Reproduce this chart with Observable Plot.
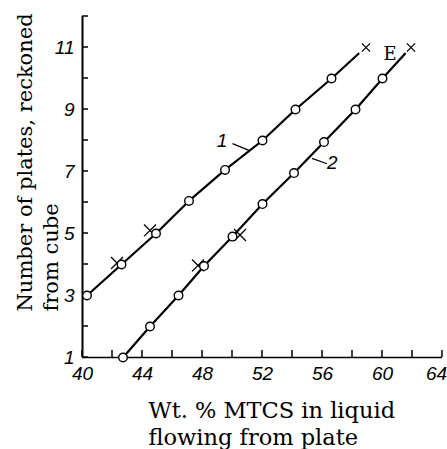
<!DOCTYPE html>
<html><head><meta charset="utf-8">
<script src="https://cdn.jsdelivr.net/npm/d3@7"></script>
<script src="https://cdn.jsdelivr.net/npm/@observablehq/plot@0.6"></script>
<style>body{margin:0;background:#fff} svg{display:block}</style>
</head><body><div id="chart"></div>
<script>
// Axes
const xTicks = [40, 42, 44, 46, 48, 50, 52, 54, 56, 58, 60, 62, 64];
const xLabels = [40, 44, 48, 52, 56, 60, 64];
const yTicks = [1, 2, 3, 4, 5, 6, 7, 8, 9, 10, 11, 12];
const yLabels = [1, 3, 5, 7, 9, 11];
const xTitle = "Wt. % MTCS in liquid\nflowing from plate";
const yTitle = "Number of plates, reckoned\nfrom cube";

// Curve 1
const c1X = [40.3, 42.6, 44.9, 47.1, 49.5, 52.0, 54.2, 56.6];
const c1Y = [3.0, 4.0, 5.0, 6.05, 7.05, 8.0, 9.0, 10.0];
const c1EndX = 58.4, c1EndY = 10.8;
const c1CrossX = [42.3, 44.5];
const c1CrossY = [4.05, 5.1];
// Curve 2
const c2X = [42.7, 44.5, 46.4, 48.1, 50.0, 52.0, 54.1, 56.1, 58.2, 60.0];
const c2Y = [1.0, 2.0, 3.0, 3.95, 4.9, 5.95, 6.95, 7.95, 9.0, 10.0];
const c2EndX = 61.5, c2EndY = 10.8;
const c2CrossX = [47.7, 50.5];
const c2CrossY = [3.97, 4.95];
// End-point crosses (E)
const endCrossX = [58.9, 61.9];
const endCrossY = [11.0, 11.0];

// Curve labels
const curveLabels = ["1", "2"];
const curveLabelX = [49.3, 56.65];
const curveLabelY = [7.98, 7.27];
const leaderX1 = [50.0, 55.3], leaderY1 = [7.9, 7.42];
const leaderX2 = [51.1, 56.3], leaderY2 = [7.68, 7.25];
const eLabel = "E", eX = 60.5, eY = 10.77;

const pts = (xs, ys) => xs.map((x, i) => ({x, y: ys[i]}));
const line1 = pts(c1X, c1Y).concat([{x: c1EndX, y: c1EndY}]);
const line2 = pts(c2X, c2Y).concat([{x: c2EndX, y: c2EndY}]);
const circles = pts(c1X, c1Y).concat(pts(c2X, c2Y));
const crosses = pts(c1CrossX, c1CrossY).concat(pts(c2CrossX, c2CrossY));
const endCrosses = pts(endCrossX, endCrossY);
const labels = curveLabels.map((t, i) => ({t, x: curveLabelX[i], y: curveLabelY[i]}));
const leaders = leaderX1.map((x1, i) => ({x1, y1: leaderY1[i], x2: leaderX2[i], y2: leaderY2[i]}));

const tickFont = "'Liberation Sans', Arial, sans-serif";
const serif = "'DejaVu Serif', serif";
const xMin = 40, yMin = 1;

// inward tick marks drawn with Plot's own x/y scales
function inwardTicks(index, scales) {
  const g = d3.create("svg:g").attr("stroke", "#000").attr("stroke-width", 1.5);
  const x0 = scales.x(xMin), y0 = scales.y(yMin);
  for (const t of xTicks) {
    const px = scales.x(t);
    g.append("line").attr("x1", px).attr("x2", px).attr("y1", y0).attr("y2", y0 - 7);
  }
  for (const t of yTicks) {
    const py = scales.y(t);
    g.append("line").attr("x1", x0).attr("x2", x0 + 6).attr("y1", py).attr("y2", py);
  }
  return g.node();
}

const chart = Plot.plot({
  width: 447, height: 449,
  marginLeft: 82, marginRight: 5, marginTop: 16, marginBottom: 92,
  x: {domain: [40, 64], axis: null},
  y: {domain: [1, 12], axis: null},
  style: {background: "#fff", color: "#000"},
  marks: [
    inwardTicks,
    // tick labels
    Plot.text(xLabels.filter(d => d < 64), {x: d => d, frameAnchor: "bottom", lineAnchor: "top", dy: 9,
      fontSize: 19, fontStyle: "italic", fontFamily: tickFont}),
    Plot.text(xLabels.filter(d => d >= 64), {x: d => d, frameAnchor: "bottom", lineAnchor: "top", dy: 9, dx: -6,
      fontSize: 19, fontStyle: "italic", fontFamily: tickFont}),
    Plot.text(yLabels, {y: d => d, frameAnchor: "left", textAnchor: "end", dx: -8,
      fontSize: 19, fontStyle: "italic", fontFamily: tickFont}),
    Plot.ruleX([xMin], {strokeWidth: 2}),
    Plot.ruleY([yMin], {strokeWidth: 1.6}),
    Plot.line(line1, {x: "x", y: "y", stroke: "#000", strokeWidth: 2.2}),
    Plot.line(line2, {x: "x", y: "y", stroke: "#000", strokeWidth: 2.2}),
    Plot.link(leaders, {x1: "x1", y1: "y1", x2: "x2", y2: "y2", stroke: "#000", strokeWidth: 1.3}),
    Plot.dot(crosses, {x: "x", y: "y", symbol: "times", r: 5.5, stroke: "#000", strokeWidth: 1.3}),
    Plot.dot(endCrosses, {x: "x", y: "y", symbol: "times", r: 3.8, stroke: "#000", strokeWidth: 1.3}),
    Plot.dot(circles, {x: "x", y: "y", r: 4.3, fill: "#fff", stroke: "#000", strokeWidth: 1.4}),
    Plot.text(labels, {x: "x", y: "y", text: "t", fontSize: 19, fontStyle: "italic", fontFamily: tickFont}),
    Plot.text([eLabel], {x: () => eX, y: () => eY, fontSize: 18, fontFamily: serif}),
    Plot.text([yTitle], {frameAnchor: "bottom-left", rotate: -90, textAnchor: "start", lineAnchor: "top",
      dx: -70, dy: -46, fontSize: 21, lineHeight: 1.28, fontFamily: serif}),
    Plot.text([xTitle], {frameAnchor: "bottom-left", textAnchor: "start", lineAnchor: "top",
      dx: 66, dy: 41, fontSize: 22.5, lineHeight: 1.2, fontFamily: serif})
  ]
});
document.getElementById("chart").append(chart);
</script>
</body></html>
